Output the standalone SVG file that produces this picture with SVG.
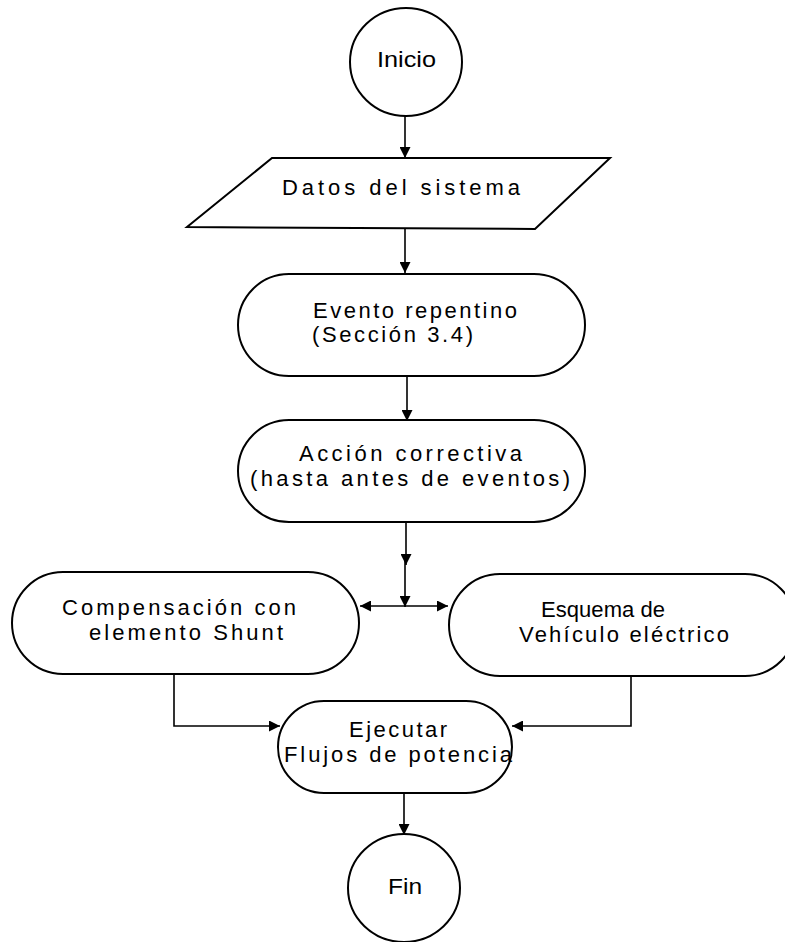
<svg xmlns="http://www.w3.org/2000/svg" width="785" height="942" viewBox="0 0 785 942">
<style>
.s{fill:#fff;stroke:#000;stroke-width:2}
.t{font-family:"Liberation Sans",Arial,sans-serif;font-size:22px;fill:#000}
.c{fill:none;stroke:#000;stroke-width:1.6}
</style>
<defs>
<marker id="a" viewBox="0 0 11 11" refX="11" refY="5.5" markerWidth="11" markerHeight="11" markerUnits="userSpaceOnUse" orient="auto">
<path d="M0,0 L11,5.5 L0,11 Z" fill="#000"/>
</marker>
</defs>
<rect width="785" height="942" fill="#fff"/>
<g id="connectors">
<line class="c" x1="405" y1="116" x2="405" y2="158" marker-end="url(#a)" stroke-width="2"/>
<line class="c" x1="405" y1="229" x2="405" y2="273" marker-end="url(#a)" stroke-width="2.5"/>
<line class="c" x1="407" y1="377" x2="407" y2="421" marker-end="url(#a)" stroke-width="2.5"/>
<line class="c" x1="406" y1="523" x2="406" y2="565" marker-end="url(#a)" stroke-width="2"/>
<line class="c" x1="405" y1="560" x2="405" y2="607" marker-end="url(#a)"/>
<line class="c" x1="405" y1="606" x2="360" y2="606" marker-end="url(#a)"/>
<line class="c" x1="405" y1="606" x2="448" y2="606" marker-end="url(#a)"/>
<polyline class="c" points="174,674 174,726 280,726" marker-end="url(#a)"/>
<polyline class="c" points="631,676 631,726 512,726" marker-end="url(#a)"/>
<line class="c" x1="404" y1="793" x2="404" y2="835" marker-end="url(#a)"/>
</g>
<g id="inicio">
<ellipse class="s" cx="406" cy="62" rx="56" ry="54"/>
<text class="t" x="377" y="67" textLength="59" lengthAdjust="spacingAndGlyphs">Inicio</text>
</g>
<g id="datos">
<polygon class="s" points="272,158 610,158 535,229 187,227"/>
<text class="t" x="282" y="195" textLength="238" lengthAdjust="spacing">Datos del sistema</text>
</g>
<g id="evento">
<rect class="s" x="238" y="274" width="347" height="102" rx="51"/>
<text class="t" x="313" y="318" textLength="204" lengthAdjust="spacing">Evento repentino</text>
<text class="t" x="312" y="342" textLength="161" lengthAdjust="spacing">(Sección 3.4)</text>
</g>
<g id="accion">
<rect class="s" x="238" y="420" width="347" height="102" rx="51"/>
<text class="t" x="299" y="461" textLength="223" lengthAdjust="spacing">Acción correctiva</text>
<text class="t" x="250" y="486" textLength="320" lengthAdjust="spacing">(hasta antes de eventos)</text>
</g>
<g id="compensacion">
<rect class="s" x="12" y="572" width="347" height="102" rx="51"/>
<text class="t" x="62" y="615" textLength="234" lengthAdjust="spacing">Compensación con</text>
<text class="t" x="89" y="640" textLength="194" lengthAdjust="spacing">elemento Shunt</text>
</g>
<g id="esquema">
<rect class="s" x="449" y="574" width="347" height="102" rx="51"/>
<text class="t" x="541" y="617" textLength="124" lengthAdjust="spacing">Esquema de</text>
<text class="t" x="519" y="642" textLength="210" lengthAdjust="spacing">Vehículo eléctrico</text>
</g>
<g id="ejecutar">
<rect class="s" x="278" y="701" width="234" height="92" rx="46"/>
<text class="t" x="349" y="737" textLength="98" lengthAdjust="spacing">Ejecutar</text>
<text class="t" x="284" y="762" textLength="228" lengthAdjust="spacing">Flujos de potencia</text>
</g>
<g id="fin">
<ellipse class="s" cx="404" cy="888" rx="56" ry="54"/>
<text class="t" x="388" y="894" textLength="34" lengthAdjust="spacingAndGlyphs">Fin</text>
</g>
</svg>
